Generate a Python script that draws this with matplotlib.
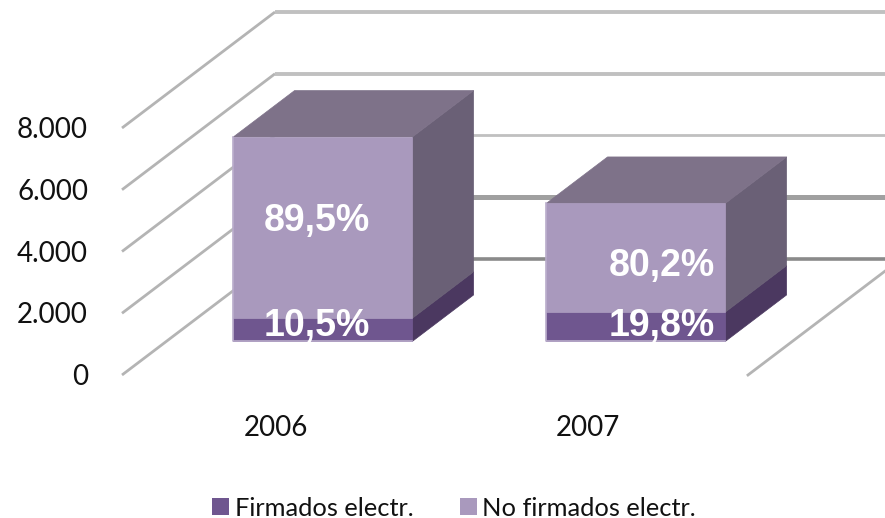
import matplotlib
matplotlib.use('Agg')
from matplotlib import pyplot as plt
from matplotlib.patches import Polygon, Patch

years = ['2006', '2007']
firmados = [750, 950]
no_firmados = [5870, 3520]
pct_firmados = ['10,5%', '19,8%']
pct_no_firmados = ['89,5%', '80,2%']
yticks = [0, 2000, 4000, 6000, 8000]
ytick_labels = ['0', '2.000', '4.000', '6.000', '8.000']

C_LOW = '#6f568f'
C_HIGH = '#a999bd'
C_TOP = '#7e7289'
C_SIDE = '#6a6076'
C_SIDE_LOW = '#4b3860'

W, H = 885, 518
PX_X = 313.0        # pixels per category
PX_V = 61.75 / 2000  # pixels per unit


def px_xy(px, py):
    # figure pixel to data
    return -0.5 + (px - 122) / PX_X, (375 - py) / PX_V


def proj(x, v, d):
    # oblique depth, d=0 front of floor, d=1 back wall
    return x + d * 153 / PX_X, v + d * 116 / PX_V


fig = plt.figure(figsize=(W / 100, H / 100), dpi=100)
ax = fig.add_axes([0, 0, 1, 1])
ax.set_xlim(px_xy(0, 0)[0], px_xy(W, 0)[0])
ax.set_ylim(px_xy(0, H)[1], px_xy(0, 0)[1])
ax.axis('off')

# walls
back_colors = ['#8a8a8a', '#a0a0a0', '#c0c0c0', '#c0c0c0', '#c0c0c0']
back_lw = [2.6, 3.6, 2.0, 2.8, 2.8]
for i, v in enumerate(yticks):
    x0, y0 = proj(-0.5, v, 0)
    x1, y1 = proj(-0.5, v, 1)
    x2, y2 = proj(1.5, v, 1)
    ax.plot([x0, x1], [y0, y1], color='#b4b4b4', lw=2.0, zorder=1, solid_capstyle='butt')
    ax.plot([x1, x2 + 1], [y1, y2], color=back_colors[i], lw=back_lw[i], zorder=1, solid_capstyle='butt')
    ax.text(*px_xy(88, 377 - v * PX_V), ytick_labels[i], ha='right', va='center',
            family='Lato', fontsize=20, color='#111111')
# right floor edge
x0, y0 = proj(1.5, 0, 0)
x1, y1 = proj(1.5, 0, 1)
ax.plot([x0, x1], [y0, y1], color='#b4b4b4', lw=2.0, zorder=1)

D0, D1 = 0.29, 0.69
BW = 0.572
LABEL_X = [317, 662]
LOW_Y = [326, 326]
HIGH_Y = [221, 266]
YEAR_X = [276, 588]


def face(corners, color, z):
    pts = [proj(*c) for c in corners]
    ax.add_patch(Polygon(pts, closed=True, facecolor=color, edgecolor=color, lw=0.5, zorder=z))


for i in range(2):
    xl, xr = i - BW / 2, i + BW / 2
    low = firmados[i]
    total = firmados[i] + no_firmados[i]

    # side
    face([(xr, 0, D0), (xr, low, D0), (xr, low, D1), (xr, 0, D1)], C_SIDE_LOW, 3)
    face([(xr, low, D0), (xr, total, D0), (xr, total, D1), (xr, low, D1)], C_SIDE, 3)
    # top
    face([(xl, total, D0), (xr, total, D0), (xr, total, D1), (xl, total, D1)], C_TOP, 3)
    # front
    face([(xl, 0, D0), (xr, 0, D0), (xr, low, D0), (xl, low, D0)], C_LOW, 4)
    face([(xl, low, D0), (xr, low, D0), (xr, total, D0), (xl, total, D0)], C_HIGH, 4)
    # light edge on the front
    pts = [proj(xr, 0, D0), proj(xl, 0, D0), proj(xl, total, D0)]
    ax.plot([p[0] for p in pts], [p[1] for p in pts], color='#b9accb', lw=1.2, zorder=5)

    ax.text(*px_xy(LABEL_X[i], LOW_Y[i]), pct_firmados[i], color='white', fontsize=27,
            fontweight='bold', family='Liberation Sans', ha='center', va='center', zorder=6)
    ax.text(*px_xy(LABEL_X[i], HIGH_Y[i]), pct_no_firmados[i], color='white', fontsize=27,
            fontweight='bold', family='Liberation Sans', ha='center', va='center', zorder=6)
    ax.text(*px_xy(YEAR_X[i], 428), years[i], ha='center', va='center',
            family='Lato', fontsize=20, color='#111111')

handles = [Patch(facecolor=C_LOW, label='Firmados electr.'),
           Patch(facecolor=C_HIGH, label='No firmados electr.')]
ax.legend(handles=handles, loc='center', bbox_to_anchor=(454 / W, 1 - 508 / H), ncol=2,
          frameon=False, prop={'family': 'Lato', 'size': 18.3}, handlelength=0.68,
          handleheight=0.68, handletextpad=0.22, columnspacing=1.81, borderpad=0,
          labelcolor='#111111')

fig.savefig('out.png', dpi=100)
